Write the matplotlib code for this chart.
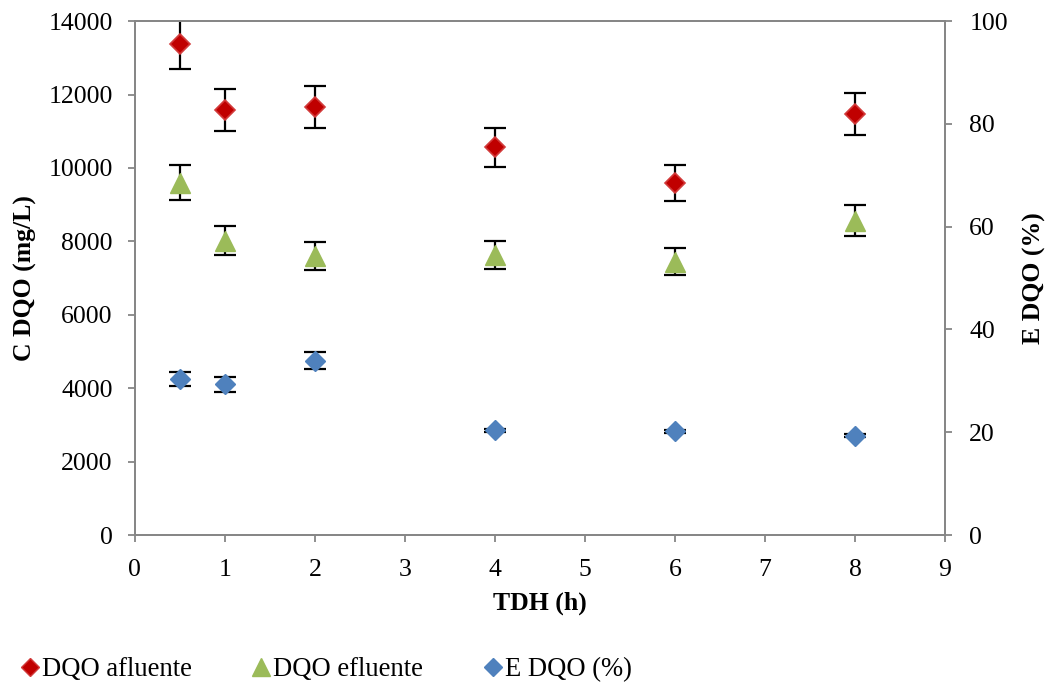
import matplotlib
matplotlib.use("Agg")
import matplotlib.pyplot as plt
from matplotlib.lines import Line2D

# Data
tdh = [0.5, 1, 2, 4, 6, 8]
dqo_afluente = [13375, 11577, 11659, 10569, 9589, 11468]
dqo_afluente_err = [680, 570, 570, 530, 490, 570]
dqo_efluente = [9602, 8022, 7600, 7627, 7450, 8567]
dqo_efluente_err = [477, 395, 381, 381, 368, 422]
e_dqo = [30.4, 29.3, 33.9, 20.4, 20.2, 19.3]
e_dqo_err = [1.35, 1.45, 1.65, 0.3, 0.3, 0.3]

x_ticks = list(range(0, 10))
left_ticks = list(range(0, 14001, 2000))
right_ticks = list(range(0, 101, 20))

plt.rcParams['font.family'] = ['Liberation Serif', 'DejaVu Serif']
FS = 18.5
LFS = 19.2
RED = '#C00000'
RED_EDGE = '#D23B3B'
GREEN = '#9BBB59'
BLUE = '#4F81BD'
AXC = '#868686'

fig = plt.figure(figsize=(10.54, 6.82), dpi=100)
ax = fig.add_axes([0.128, 0.2155, 0.7686, 0.7535])
ax2 = ax.twinx()

ax.errorbar(tdh, dqo_afluente, yerr=dqo_afluente_err, fmt='none', ecolor='black',
            elinewidth=1.6, capsize=8, capthick=1.6, zorder=2)
ax.plot(tdh, dqo_afluente, linestyle='none', marker='D', markersize=10.3,
        markerfacecolor=RED, markeredgecolor=RED_EDGE, markeredgewidth=1.2, zorder=3)
ax.errorbar(tdh, dqo_efluente, yerr=dqo_efluente_err, fmt='none', ecolor='black',
            elinewidth=1.6, capsize=8, capthick=1.6, zorder=2)
ax.plot(tdh, dqo_efluente, linestyle='none', marker='^', markersize=14.5,
        markerfacecolor=GREEN, markeredgecolor=GREEN, zorder=3)

ax2.errorbar(tdh, e_dqo, yerr=e_dqo_err, fmt='none', ecolor='black',
             elinewidth=1.6, capsize=8, capthick=1.6, zorder=2)
ax2.plot(tdh, e_dqo, linestyle='none', marker='D', markersize=10.5,
         markerfacecolor=BLUE, markeredgecolor=BLUE, zorder=3)

ax.set_xlim(0, 9)
ax.set_ylim(0, 14000)
ax2.set_ylim(0, 100)
ax.set_xticks(x_ticks)
ax.set_yticks(left_ticks)
ax2.set_yticks(right_ticks)

for a in (ax, ax2):
    for s in a.spines.values():
        s.set_color(AXC)
        s.set_linewidth(1.3)
    a.tick_params(colors=AXC, labelcolor='black', labelsize=FS, length=5, width=1.3,
                  direction='out')
ax.tick_params(axis='x', pad=12)
ax.tick_params(axis='y', pad=11)
ax2.tick_params(axis='y', pad=12.5)

ax.set_xlabel('TDH (h)', fontsize=FS, fontweight='bold', labelpad=8)
ax.set_ylabel('C DQO (mg/L)', fontsize=FS, fontweight='bold', labelpad=8)
ax2.set_ylabel('E DQO (%)', fontsize=FS, fontweight='bold', labelpad=11)

handles = [
    Line2D([], [], linestyle='none', marker='D', markersize=9, markerfacecolor=RED,
           markeredgecolor=RED_EDGE),
    Line2D([], [], linestyle='none', marker='^', markersize=13, markerfacecolor=GREEN,
           markeredgecolor=GREEN),
    Line2D([], [], linestyle='none', marker='D', markersize=9, markerfacecolor=BLUE,
           markeredgecolor=BLUE),
]
labels = ['DQO afluente', 'DQO efluente', 'E DQO (%)']
fig.legend(handles, labels, loc='lower left', bbox_to_anchor=(0.018, 0.0), ncol=3,
           frameon=False, fontsize=LFS, handlelength=0.8, handletextpad=0.05,
           columnspacing=2.22, borderpad=0.0, borderaxespad=0.0)

fig.savefig('out.png', dpi=100)
